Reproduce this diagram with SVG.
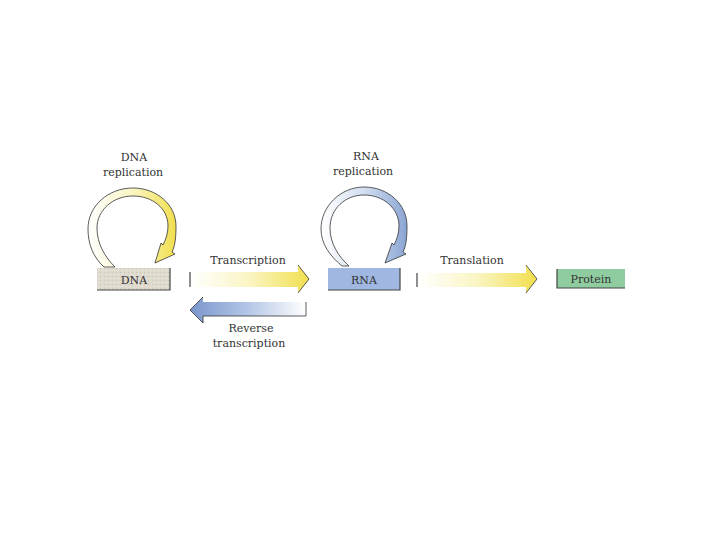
<svg xmlns="http://www.w3.org/2000/svg" width="720" height="540" viewBox="0 0 720 540">
<style>
text{font-family:"DejaVu Serif","Liberation Serif",serif;font-size:11px;fill:#333;text-anchor:middle}
.ol{stroke:#333;stroke-width:0.8;stroke-linejoin:round}
.edge{stroke:#444;stroke-width:1.2;fill:none}
</style>
<defs>
<linearGradient id="yl" x1="0" y1="0" x2="1" y2="0">
<stop offset="0" stop-color="#ffffff"/>
<stop offset="0.5" stop-color="#faf5c4"/>
<stop offset="1" stop-color="#f1df4e"/>
</linearGradient>
<linearGradient id="bl" x1="0" y1="0" x2="1" y2="0">
<stop offset="0" stop-color="#ffffff"/>
<stop offset="0.5" stop-color="#d3def0"/>
<stop offset="1" stop-color="#8aa5d4"/>
</linearGradient>
<linearGradient id="rev" x1="0" y1="0" x2="1" y2="0">
<stop offset="0" stop-color="#7a96cd"/>
<stop offset="0.5" stop-color="#b4c6e6"/>
<stop offset="1" stop-color="#ffffff"/>
</linearGradient>
<pattern id="tex" width="4" height="4" patternUnits="userSpaceOnUse">
<rect width="4" height="4" fill="#dedacd"/>
<rect x="0" y="0" width="1" height="1" fill="#c9c4b5"/>
<rect x="2" y="2" width="1" height="1" fill="#ebe8df"/>
</pattern>
</defs>
<rect width="720" height="540" fill="#fff"/>

<g id="connectors">
<g id="dna-replication">
<path class="ol" fill="url(#yl)" d="M104,267 C93,257 88,244 88,229 C88,206 108,188 133,188 C157,188 176,205 176,226 C176,238 175,246 172,252 L175,254 L155,263 L161,243 L163,245 C166,239 168,233 168,226 C168,208 152,196 133,196 C113,196 97,210 97,228 C97,244 105,257 115,267 Z"/>
<text x="134" y="161">DNA</text>
<text x="133" y="176">replication</text>
</g>
<g id="rna-replication">
<path class="ol" fill="url(#bl)" d="M342,266 C330,256 321,244 321,229 C321,206 341,187 364,187 C388,187 407,204 407,226 C407,238 406,246 403,252 L406,254 L385,263 L392,243 L394,245 C397,239 399,233 399,226 C399,208 383,195 364,195 C345,195 330,209 330,228 C330,244 339,257 349,266 Z"/>
<text x="366" y="160">RNA</text>
<text x="363" y="175">replication</text>
</g>
<g id="transcription">
<path fill="url(#yl)" d="M190,272 L298,272 L298,265 L309,279 L298,293 L298,287 L190,287 Z"/>
<path class="ol" fill="none" d="M298,265 L309,279 L298,293"/>
<line class="edge" x1="190" y1="272" x2="190" y2="287"/>
<text x="248" y="264">Transcription</text>
</g>
<g id="reverse-transcription">
<path fill="url(#rev)" d="M306,302 L203,302 L203,297 L190,310 L203,323 L203,316 L306,316 Z"/>
<path class="ol" fill="none" d="M203,297 L190,310 L203,323 L203,316 L306,316 L306,302"/>
<text x="251" y="332">Reverse</text>
<text x="249" y="347">transcription</text>
</g>
<g id="translation">
<path fill="url(#yl)" d="M417,273 L526,273 L526,265 L537,279 L526,293 L526,287 L417,287 Z"/>
<path class="ol" fill="none" d="M526,265 L537,279 L526,293"/>
<line class="edge" x1="417" y1="273" x2="417" y2="287"/>
<text x="472" y="264">Translation</text>
</g>
</g>

<g id="dna">
<rect x="97" y="268" width="73" height="22" fill="url(#tex)"/>
<path class="edge" d="M97,290 L170,290 L170,268"/>
<text x="134" y="284">DNA</text>
</g>
<g id="rna">
<rect x="328" y="268" width="72" height="22" fill="#9fb7e1"/>
<path class="edge" d="M328,290 L400,290 L400,268"/>
<text x="364" y="284">RNA</text>
</g>
<g id="protein">
<rect x="557" y="269" width="68" height="19" fill="#8fcc9f"/>
<path class="edge" d="M557,269 L557,288 L625,288"/>
<text x="591" y="283">Protein</text>
</g>
</svg>
